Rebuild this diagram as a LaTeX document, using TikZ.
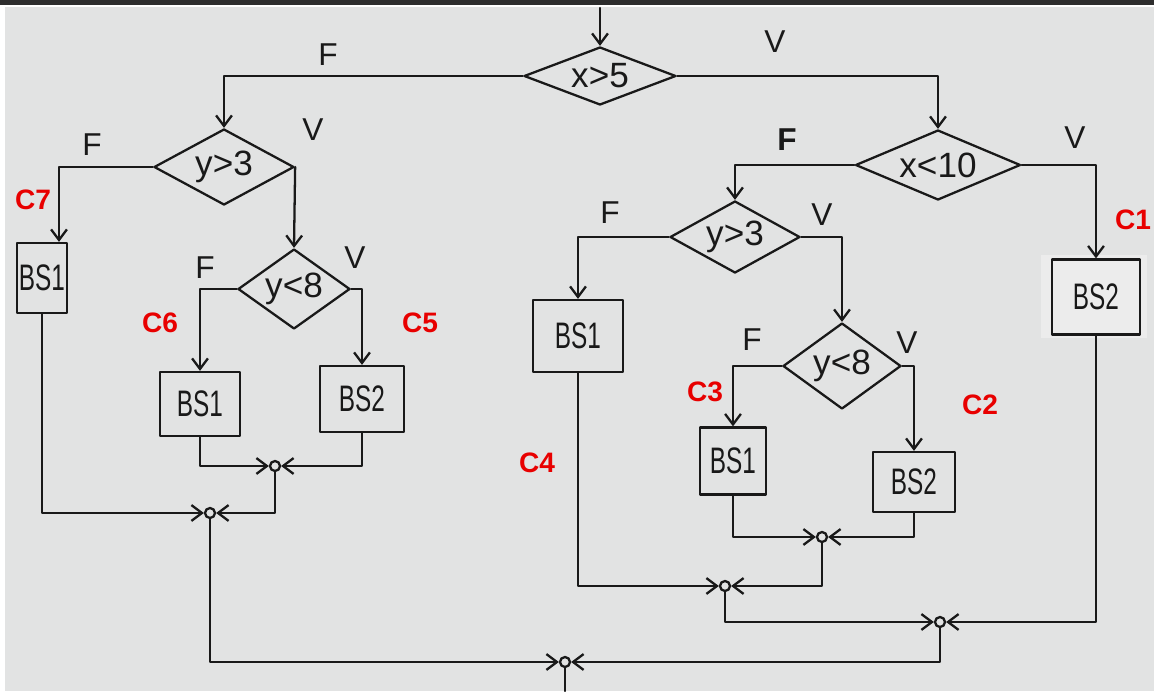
\documentclass[tikz,border=0pt]{standalone}
\usepackage{graphicx}
\usepackage{fontspec}
\setmainfont{Liberation Sans}
\usetikzlibrary{shapes.geometric,arrows.meta,calc}
\definecolor{paper}{RGB}{226,227,227}
\definecolor{paperhi}{RGB}{236,236,236}
\definecolor{frame}{RGB}{45,45,45}
\definecolor{ink}{RGB}{25,25,25}
\definecolor{mark}{RGB}{232,0,0}
% narrow lettering for the block names
\newcommand{\narrow}[1]{\scalebox{0.66}[1]{#1}}
\begin{document}
\begin{tikzpicture}[x=0.02cm,y=-0.02cm,
  line join=round, line cap=round,
  flow/.style={draw=ink, line width=1.3pt},
  arr/.style={flow, -{Straight Barb[length=6pt,width=9pt,line width=1.3pt]}},
  dia/.style n args={3}{diamond, draw=ink, line width=1.3pt, inner sep=0pt,
    shape aspect=#3, minimum width=#1*0.02cm, minimum height=#2*0.02cm,
    text=ink, font=\fontsize{20}{20}\selectfont},
  blk/.style 2 args={rectangle, draw=ink, line width=1.3pt, inner sep=0pt,
    minimum width=#1*0.02cm, minimum height=#2*0.02cm,
    text=ink, font=\fontsize{21}{21}\selectfont},
  merge/.style={circle, draw=ink, line width=1.3pt, fill=paper,
    minimum size=0.2cm, inner sep=0pt},
  lab/.style={text=ink, font=\fontsize{18}{18}\selectfont},
  cnote/.style={text=mark, font=\bfseries\fontsize{16}{16}\selectfont},
]
% sheet
\fill[paper] (0,0) rectangle (1154,691);
\fill[white] (0,5) rectangle (1154,7);
\fill[white] (0,5) rectangle (5,691);
\fill[frame] (0,0) rectangle (1154,5);
\fill[paperhi] (1041,255) rectangle (1147,338);
\useasboundingbox (0,0) rectangle (1154,691);

% decisions
\node[dia={152}{58}{2.6}]  (d0) at (600,76)  {x>5};
\node[dia={140}{76}{1.85}] (d1) at (224,167) {y>3};
\node[dia={112}{80}{1.4}]  (d2) at (294,289) {y<8};
\node[dia={165}{70}{2.36}] (d3) at (938,165) {x<10};
\node[dia={130}{72}{1.8}]  (d4) at (735,237) {y>3};
\node[dia={118}{86}{1.37}] (d5) at (842,366) {y<8};

% blocks
\node[blk={50}{70}] (b1) at (42,278)   {\narrow{BS1}};
\node[blk={80}{64}] (b2) at (200,404)  {\narrow{BS1}};
\node[blk={84}{66}] (b3) at (362,399)  {\narrow{BS2}};
\node[blk={90}{72}] (b4) at (578,336)  {\narrow{BS1}};
\node[blk={66}{67}] (b5) at (733,461)  {\narrow{BS1}};
\node[blk={82}{60}] (b6) at (914,482)  {\narrow{BS2}};
\node[blk={88}{75}] (b7) at (1096,297) {\narrow{BS2}};

% merge points
\node[merge] (j1) at (275,466) {};
\node[merge] (j2) at (210,513) {};
\node[merge] (j3) at (822,537) {};
\node[merge] (j4) at (725,586) {};
\node[merge] (j5) at (940,622) {};
\node[merge] (j6) at (565,662) {};

\coordinate (start) at (600,8);
\coordinate (stop) at (565,691);
\coordinate (b1in) at ($(b1.north)+(17,0)$);

% branches
\draw[arr] (start) -- (d0.north);
\draw[arr] (d0.west) -| (d1.north);
\draw[arr] (d0.east) -| (d3.north);
\draw[arr] (d1.west) -| (b1in);
\draw[arr] (d1.east) -- (d2.north);
\draw[arr] (d2.west) -| (b2.north);
\draw[arr] (d2.east) -| (b3.north);
\draw[arr] (d3.west) -| (d4.north);
\draw[arr] (d3.east) -| (b7.north);
\draw[arr] (d4.west) -| (b4.north);
\draw[arr] (d4.east) -| (d5.north);
\draw[arr] (d5.west) -| (b5.north);
\draw[arr] (d5.east) -| (b6.north);

% joins
\draw[arr] (b2.south) |- (j1);
\draw[arr] (b3.south) |- (j1);
\draw[arr] (j1) |- (j2);
\draw[arr] (b1.south) |- (j2);
\draw[arr] (j2) |- (j6);
\draw[arr] (b5.south) |- (j3);
\draw[arr] (b6.south) |- (j3);
\draw[arr] (j3) |- (j4);
\draw[arr] (b4.south) |- (j4);
\draw[arr] (j4) |- (j5);
\draw[arr] (b7.south) |- (j5);
\draw[arr] (j5) |- (j6);
\draw[flow] (j6) -- (stop);

% branch labels
\node[lab] (f0) at (328,55)  {F};
\node[lab] (v0) at (775,42)  {V};
\node[lab] (f1) at (92,145)  {F};
\node[lab] (v1) at (313,130) {V};
\node[lab] (f2) at (205,268) {F};
\node[lab] (v2) at (355,258) {V};
\node[lab] (f3) at (787,140) {\bfseries F};
\node[lab] (v3) at (1075,138) {V};
\node[lab] (f4) at (610,213) {F};
\node[lab] (v4) at (822,215) {V};
\node[lab] (f5) at (752,340) {F};
\node[lab] (v5) at (907,343) {V};

% path names
\node[cnote] (c7) at (33,200)   {C7};
\node[cnote] (c6) at (160,323)  {C6};
\node[cnote] (c5) at (420,323)  {C5};
\node[cnote] (c4) at (537,463)  {C4};
\node[cnote] (c3) at (705,392)  {C3};
\node[cnote] (c2) at (980,405)  {C2};
\node[cnote] (c1) at (1133,220) {C1};
\end{tikzpicture}
\end{document}
